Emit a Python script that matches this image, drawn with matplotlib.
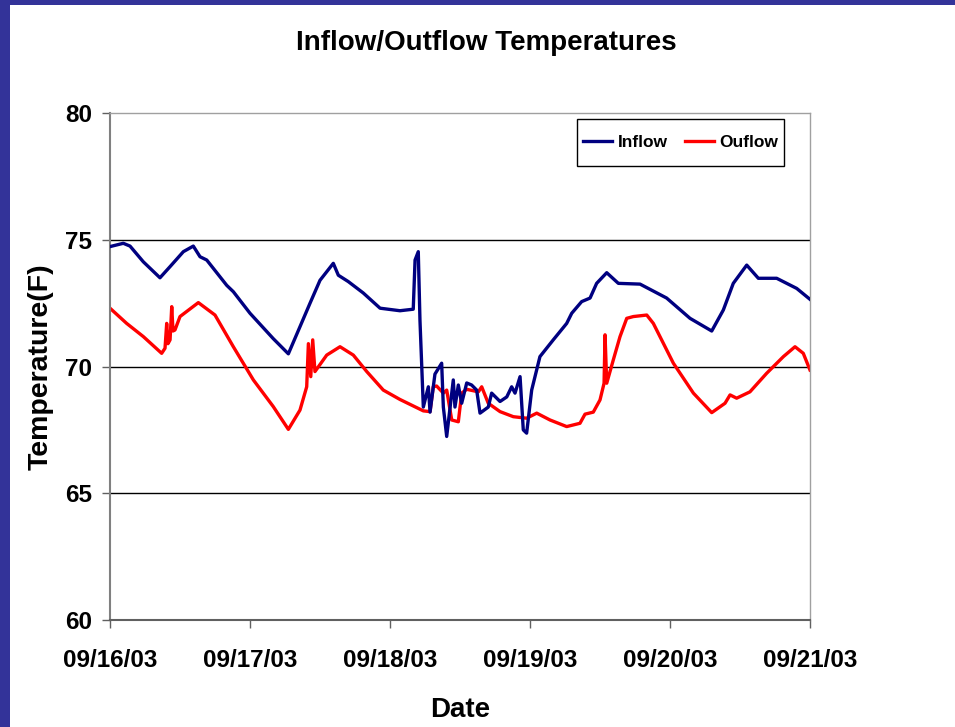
import matplotlib
matplotlib.use("Agg")
import matplotlib.pyplot as plt
from matplotlib.patches import Rectangle

# x values: days since 09/16/03 00:00
inflow_days = [0.0, 0.095, 0.143, 0.238, 0.357, 0.429, 0.524, 0.595, 0.643, 0.691,
               0.834, 0.881, 1.0, 1.166, 1.274, 1.357, 1.429, 1.5, 1.595, 1.631,
               1.702, 1.809, 1.929, 2.071, 2.166, 2.179, 2.202, 2.214, 2.238, 2.274,
               2.286, 2.321, 2.369, 2.381, 2.405, 2.452, 2.464, 2.488, 2.512, 2.548,
               2.583, 2.619, 2.643, 2.702, 2.726, 2.786, 2.834, 2.869, 2.893, 2.929,
               2.952, 2.976, 3.012, 3.071, 3.166, 3.262, 3.298, 3.369, 3.429, 3.476,
               3.548, 3.631, 3.786, 3.976, 4.143, 4.298, 4.381, 4.452, 4.548, 4.631,
               4.762, 4.905, 5.0]
inflow_temp = [74.73, 74.86, 74.75, 74.13, 73.5, 73.94, 74.53, 74.75, 74.33, 74.2,
               73.2, 72.95, 72.1, 71.1, 70.5, 71.57, 72.5, 73.4, 74.07, 73.6,
               73.35, 72.9, 72.3, 72.2, 72.26, 74.2, 74.53, 71.83, 68.4, 69.2,
               68.2, 69.7, 70.13, 68.4, 67.24, 69.47, 68.4, 69.27, 68.55, 69.35,
               69.27, 69.07, 68.16, 68.4, 68.95, 68.62, 68.8, 69.2, 68.95, 69.6,
               67.5, 67.37, 69.07, 70.39, 71.05, 71.7, 72.1, 72.56, 72.7, 73.28,
               73.7, 73.28, 73.25, 72.7, 71.9, 71.4, 72.23, 73.28, 74.0, 73.48,
               73.48, 73.08, 72.65]

outflow_days = [0.0, 0.119, 0.238, 0.369, 0.393, 0.405, 0.414, 0.429, 0.441, 0.45,
                0.464, 0.5, 0.631, 0.75, 0.881, 1.024, 1.166, 1.274, 1.357, 1.405,
                1.417, 1.434, 1.448, 1.464, 1.548, 1.643, 1.738, 1.834, 1.952, 2.071,
                2.238, 2.286, 2.309, 2.333, 2.381, 2.405, 2.441, 2.488, 2.512, 2.548,
                2.631, 2.655, 2.702, 2.786, 2.881, 2.976, 3.048, 3.143, 3.262, 3.357,
                3.393, 3.452, 3.5, 3.529, 3.536, 3.548, 3.595, 3.643, 3.691, 3.738,
                3.834, 3.881, 4.024, 4.167, 4.298, 4.393, 4.429, 4.476, 4.571, 4.69,
                4.81, 4.893, 4.952, 5.0]
outflow_temp = [72.3, 71.7, 71.18, 70.52, 70.72, 71.7, 70.9, 71.05, 72.36, 71.4,
                71.44, 71.97, 72.52, 72.03, 70.78, 69.47, 68.42, 67.52, 68.28, 69.2,
                70.9, 69.6, 71.05, 69.8, 70.45, 70.78, 70.45, 69.8, 69.07, 68.7,
                68.25, 68.22, 69.2, 69.23, 68.95, 69.07, 67.89, 67.82, 68.95, 69.1,
                69.0, 69.2, 68.55, 68.22, 68.02, 67.96, 68.16, 67.89, 67.63, 67.76,
                68.12, 68.2, 68.68, 69.34, 71.25, 69.34, 70.26, 71.18, 71.9, 71.97,
                72.03, 71.7, 70.13, 68.95, 68.18, 68.55, 68.88, 68.75, 69.0, 69.73,
                70.39, 70.78, 70.52, 69.86]

date_labels = ["09/16/03", "09/17/03", "09/18/03", "09/19/03", "09/20/03", "09/21/03"]
y_ticks = [60, 65, 70, 75, 80]

plt.rcParams['font.family'] = ['Liberation Sans', 'DejaVu Sans']
plt.rcParams['font.weight'] = 'bold'

W, H = 955, 727
fig = plt.figure(figsize=(W / 100, H / 100), dpi=100)
fig.patch.set_facecolor('white')

# blue slide border (left and top)
fig.patches.append(Rectangle((0, 0), 10 / W, 1, transform=fig.transFigure,
                             facecolor='#333399', edgecolor='none', zorder=0))
fig.patches.append(Rectangle((0, 1 - 5 / H), 1, 5 / H, transform=fig.transFigure,
                             facecolor='#333399', edgecolor='none', zorder=0))

ax = fig.add_axes([110 / W, (H - 620) / H, 700 / W, 507 / H])
ax.set_xlim(0, 5)
ax.set_ylim(60, 80)

for y in [65, 70, 75]:
    ax.axhline(y, color='black', linewidth=1.0, zorder=1)

ax.plot(inflow_days, inflow_temp, color='#000080', linewidth=2.4, label='Inflow',
        zorder=3, solid_joinstyle='round')
ax.plot(outflow_days, outflow_temp, color='#FF0000', linewidth=2.4, label='Ouflow',
        zorder=2, solid_joinstyle='round')

ax.set_xticks(range(len(date_labels)))
ax.set_xticklabels(date_labels, fontsize=17.5, fontweight='bold')
ax.set_yticks(y_ticks)
ax.set_yticklabels([str(v) for v in y_ticks], fontsize=17.5, fontweight='bold')
ax.tick_params(axis='x', direction='out', length=6, width=1, color='#606060', pad=15)
ax.tick_params(axis='y', direction='out', length=6, width=1, color='#606060', pad=7)

for side in ['top', 'right']:
    ax.spines[side].set_color('#a0a0a0')
    ax.spines[side].set_linewidth(1)
ax.spines['left'].set_color('#808080')
ax.spines['left'].set_linewidth(1.5)
ax.spines['bottom'].set_color('#606060')
ax.spines['bottom'].set_linewidth(1.5)

ax.set_xlabel('Date', fontsize=20, fontweight='bold', labelpad=18)
ax.set_ylabel('Temperature(F)', fontsize=20.5, fontweight='bold', labelpad=8)

fig.text(486 / W, 1 - 43 / H, 'Inflow/Outflow Temperatures', ha='center', va='center',
         fontsize=20, fontweight='bold')

# legend frame
ax.add_patch(Rectangle((467 / 700, 454 / 507), 207 / 700, 47 / 507,
                       transform=ax.transAxes, facecolor='white', edgecolor='black',
                       linewidth=1.0, zorder=4))
leg = ax.legend(loc='center', bbox_to_anchor=(570.5 / 700, 477.5 / 507), ncol=2,
                frameon=False, borderaxespad=0, borderpad=0,
                handlelength=1.7, handletextpad=0.3, columnspacing=1.0,
                prop={'weight': 'bold', 'size': 12.5})
leg.set_zorder(5)

fig.savefig('out.png', dpi=100, facecolor='white')
